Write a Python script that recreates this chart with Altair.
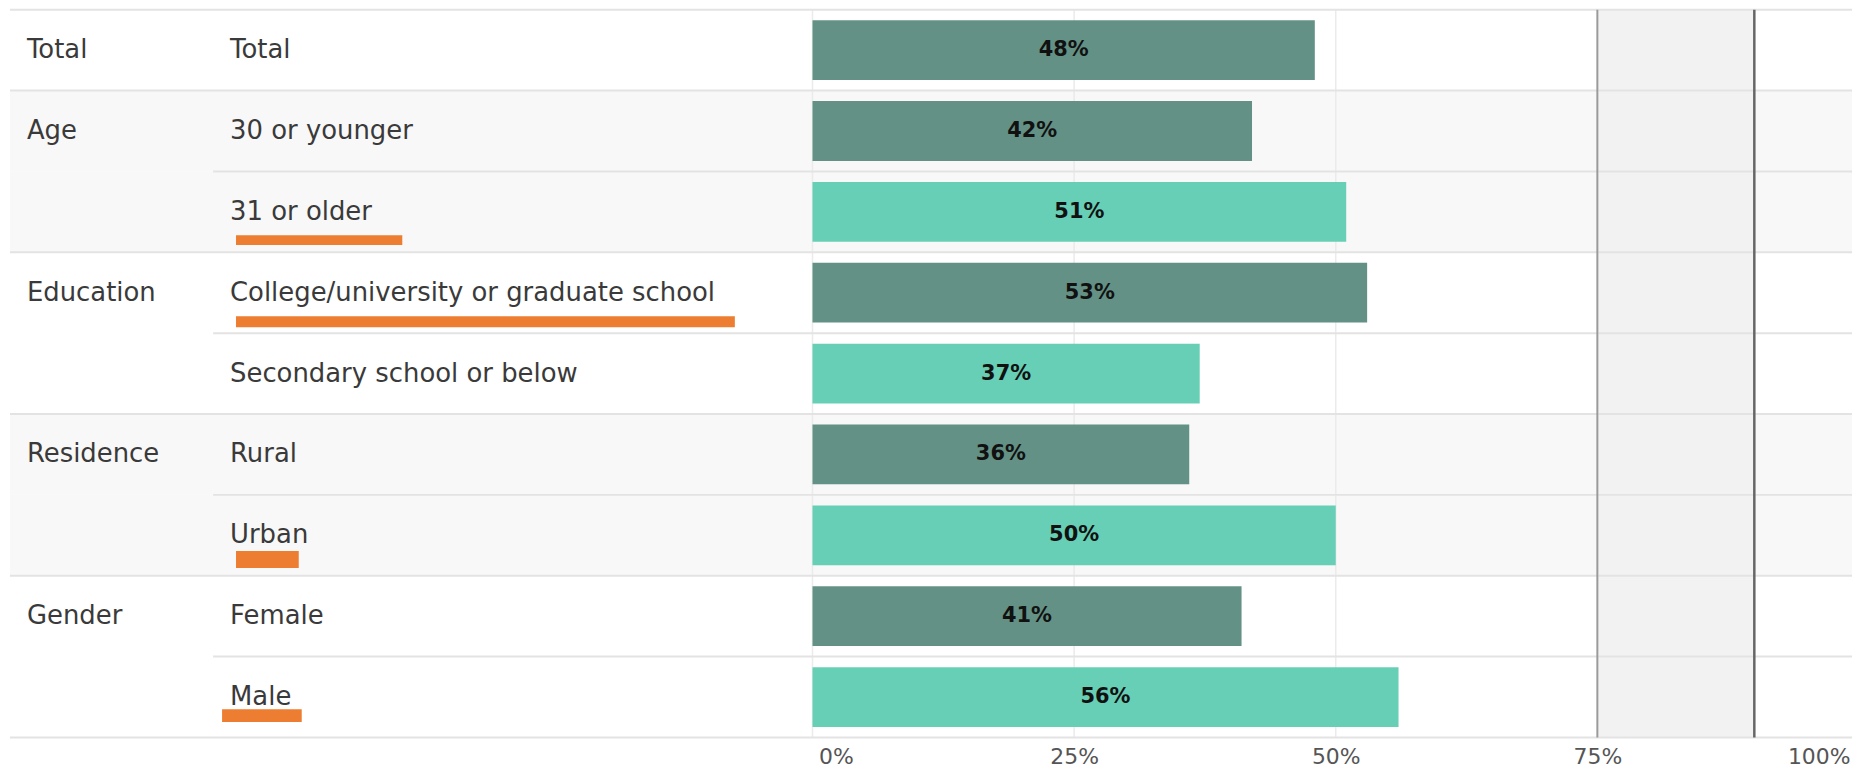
import altair as alt
import pandas as pd

# ---- data ----
groups = ["Total", "Age", "Age", "Education", "Education",
          "Residence", "Residence", "Gender", "Gender"]
categories = ["Total", "30 or younger", "31 or older",
              "College/university or graduate school", "Secondary school or below",
              "Rural", "Urban", "Female", "Male"]
values = [48, 42, 51, 53, 37, 36, 50, 41, 56]
tones = ["dark", "dark", "light", "dark", "light", "dark", "light", "dark", "light"]
shaded_groups = ["Age", "Residence"]
highlighted = ["31 or older", "College/university or graduate school", "Urban", "Male"]
band_lo, band_hi = 75, 90
grid_ticks = [0, 25, 50]
axis_ticks = [0, 25, 50, 75, 100]

# ---- styling / layout ----
W, H = 1852, 731
X0, X1 = 808, 1859
DARK, LIGHT = "#5e8d80", "#60cdb2"
ORANGE = "#ed7d31"
LINE = "#e3e3e3"
FONT = "DejaVu Sans"

df = pd.DataFrame({"group": groups, "category": categories,
                   "value": values, "tone": tones})
df["first"] = df["group"] != df["group"].shift()
df["shaded"] = df["group"].isin(shaded_groups)

yscale = alt.Scale(paddingInner=0, paddingOuter=0)
x_scale = alt.Scale(domain=[0, 100], range=[X0, X1], nice=False)
x_axis = alt.Axis(values=axis_ticks, labelExpr="datum.value + '%'",
                  labelFlush=True, domain=False, ticks=False, grid=False,
                  labelOffset={"condition": [
                      {"test": "datum.value == 100", "value": -9},
                      {"test": "datum.value == 0", "value": 6}],
                      "value": 0},
                  labelPadding=9, labelFontSize=22, labelFont=FONT,
                  labelColor="#555555", title=None, orient="bottom")


def X(field):
    return alt.X(field, scale=x_scale, axis=x_axis)


def yenc(bp=None):
    if bp is None:
        return alt.Y("category:N", sort=categories, scale=yscale, axis=None)
    return alt.Y("category:N", sort=categories, scale=yscale, axis=None, bandPosition=bp)


base = alt.Chart(df)

bg = base.transform_filter("datum.shaded").mark_rect(color="#f8f8f8").encode(
    x=alt.value(2), x2=alt.value("width"), y=yenc())

band_df = pd.DataFrame({"lo": [band_lo], "hi": [band_hi]})
band = alt.Chart(band_df).mark_rect(color="#f2f2f2").encode(
    x=X("lo:Q"), x2="hi:Q",
    y=alt.value(0), y2=alt.value("height"))

grid = alt.Chart(pd.DataFrame({"t": grid_ticks})).mark_rule(
    color="#ebebeb", strokeWidth=1.5).encode(
    x=X("t:Q"), y=alt.value(0), y2=alt.value("height"))

lines_group = base.transform_filter("datum.first").mark_rule(
    color=LINE, strokeWidth=2).encode(
    x=alt.value(2), x2=alt.value("width"), y=yenc(0))
lines_sub = base.transform_filter("!datum.first").mark_rule(
    color=LINE, strokeWidth=2).encode(
    x=alt.value(206), x2=alt.value("width"), y=yenc(0))
bottom_line = alt.Chart(pd.DataFrame({"k": [0]})).mark_rule(
    color=LINE, strokeWidth=2).encode(
    x=alt.value(2), x2=alt.value("width"), y=alt.value("height"))

rule_lo = alt.Chart(band_df).mark_rule(color="#9a9a9a", strokeWidth=2).encode(
    x=X("lo:Q"), y=alt.value(0), y2=alt.value("height"))
rule_hi = alt.Chart(band_df).mark_rule(color="#666666", strokeWidth=2.5).encode(
    x=X("hi:Q"), y=alt.value(0), y2=alt.value("height"))

bars = base.mark_bar(height={"band": 0.74}, opacity=0.96).encode(
    x=X("value:Q"),
    y=yenc(),
    color=alt.Color("tone:N", scale=alt.Scale(domain=["dark", "light"], range=[DARK, LIGHT]),
                    legend=None))

bar_text = base.transform_calculate(
    mid="datum.value / 2", lbl="datum.value + '%'").mark_text(
    font=FONT, fontWeight="bold", fontSize=21, color="#111111", baseline="middle").encode(
    x=X("mid:Q"), y=yenc(), text="lbl:N")

cat_text = base.mark_text(align="left", baseline="middle", font=FONT,
                          fontSize=26, color="#3a3a3a").encode(
    x=alt.value(223), y=yenc(), text="category:N")
grp_text = base.transform_filter("datum.first").mark_text(
    align="left", baseline="middle", font=FONT, fontSize=26, color="#3a3a3a").encode(
    x=alt.value(19), y=yenc(), text="group:N")

# orange underline highlights (x1, x2, band position, thickness)
hl_layout = {
    highlighted[0]: (229, 396, 0.85, 10),
    highlighted[1]: (229, 730, 0.86, 11),
    highlighted[2]: (229, 292, 0.80, 17),
    highlighted[3]: (215, 295, 0.73, 13),
}
hl_layers = []
for name in highlighted:
    x1, x2, bp, th = hl_layout[name]
    hl_layers.append(
        base.transform_filter(alt.datum.category == name).mark_rule(
            color=ORANGE, strokeWidth=th, strokeCap="butt").encode(
            x=alt.value(x1), x2=alt.value(x2), y=yenc(bp)))

chart = alt.layer(
    bg, band, grid, lines_group, lines_sub, bottom_line, rule_lo, rule_hi,
    bars, bar_text, cat_text, grp_text, *hl_layers
).properties(
    width=W, height=H,
    autosize=alt.AutoSizeParams(type="none"),
    padding={"left": 0, "top": 0, "right": 0, "bottom": 31},
    background="white",
).configure_view(stroke=None)

chart.save("out.html", embed_options={"renderer": "svg", "actions": False})
